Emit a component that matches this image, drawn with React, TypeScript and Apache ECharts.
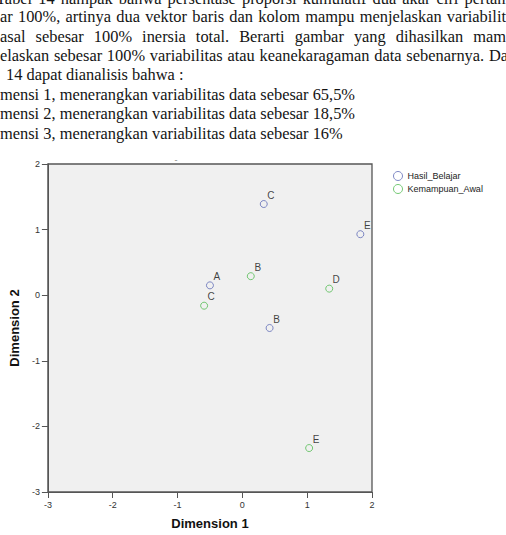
import React, { useEffect, useRef } from "react";
import * as echarts from "echarts";

// ---- data ----
const hasilLabels = ["A", "B", "C", "E"];
const hasilDim1 = [-0.5, 0.42, 0.33, 1.82];
const hasilDim2 = [0.15, -0.5, 1.39, 0.93];

const awalLabels = ["B", "C", "D", "E"];
const awalDim1 = [0.13, -0.59, 1.34, 1.03];
const awalDim2 = [0.29, -0.16, 0.1, -2.33];

const seriesNames = ["Hasil_Belajar", "Kemampuan_Awal"];
const axisNames = ["Dimension 1", "Dimension 2"];

// paragraph text above the chart (cropped scan)
const justifiedLines = [
  "Tabel 14 nampak bahwa persentase proporsi kumulatif dua akar ciri pertam",
  "ar 100%, artinya dua vektor baris dan kolom mampu menjelaskan variabilit",
  "asal sebesar 100% inersia total. Berarti gambar yang dihasilkan mam",
  "elaskan sebesar 100% variabilitas atau keanekaragaman data sebenarnya. Da",
];
const plainLines = [
  "14 dapat dianalisis bahwa :",
  "mensi 1, menerangkan variabilitas data sebesar 65,5%",
  "mensi 2, menerangkan variabilitas data sebesar 18,5%",
  "mensi 3, menerangkan variabilitas data sebesar 16%",
];

const BLUE = "#5f6cb6";
const GREEN = "#52bb52";

export default function App() {
  const ref = useRef<HTMLDivElement>(null);
  useEffect(() => {
    document.body.style.margin = "0";
    const chart = echarts.init(ref.current!, undefined, { renderer: "svg" });

    const FONT = '16.4px "Liberation Serif"';
    const cv = document.createElement("canvas").getContext("2d")!;
    cv.font = FONT;
    const textEls: any[] = [];
    const lineSpec = [
      { x0: -4, x1: 510, base: 4 },
      { x0: 0, x1: 506, base: 22 },
      { x0: 0, x1: 506, base: 41.5 },
      { x0: 0, x1: 508, base: 61 },
    ];
    const addWord = (w: string, x: number, base: number) => {
      textEls.push({
        type: "text",
        x,
        y: base - 5.5,
        silent: true,
        style: {
          text: w,
          font: FONT,
          fill: "#141414",
          textAlign: "left",
          verticalAlign: "middle",
        },
      });
    };
    justifiedLines.forEach((line, i) => {
      const words = line.split(" ");
      const widths = words.map((w) => cv.measureText(w).width);
      const total = widths.reduce((a, b) => a + b, 0);
      const spec = lineSpec[i];
      const gap = (spec.x1 - spec.x0 - total) / (words.length - 1);
      let x = spec.x0;
      words.forEach((w, j) => {
        addWord(w, x, spec.base);
        x += widths[j] + gap;
      });
    });
    const plainSpec = [
      { x: 6, base: 80 },
      { x: 0, base: 99.5 },
      { x: 0, base: 119 },
      { x: 0, base: 138.5 },
    ];
    plainLines.forEach((line, i) => addWord(line, plainSpec[i].x, plainSpec[i].base));

    textEls.push({
      type: "text",
      x: 176,
      y: 160,
      silent: true,
      style: { text: "-", font: '9px "Liberation Sans"', fill: "#888", textAlign: "center", verticalAlign: "middle" },
    });

    const mk = (labels: string[], xs: number[], ys: number[]) =>
      labels.map((n, i) => ({ name: n, value: [xs[i], ys[i]] }));

    const axisCommon = {
      type: "value" as const,
      min: -3,
      max: 2,
      interval: 1,
      nameLocation: "middle" as const,
      nameTextStyle: { fontFamily: "Liberation Sans", fontWeight: "bold", fontSize: 13, color: "#111" },
      axisLine: { show: true, onZero: false, lineStyle: { color: "#555", width: 1 } },
      axisTick: { show: true, length: 6, lineStyle: { color: "#555" } },
      axisLabel: { fontFamily: "Liberation Sans", fontSize: 9, color: "#333", margin: 8 },
      splitLine: { show: false },
    };

    const seriesCommon = (name: string, color: string, data: any[]) => ({
      type: "scatter",
      name,
      data,
      symbol: "circle",
      symbolSize: 7,
      itemStyle: { color: "rgba(0,0,0,0)", borderColor: color, borderWidth: 1 },
      emphasis: { disabled: true },
      label: {
        show: true,
        formatter: "{b}",
        position: "top",
        distance: 0,
        offset: [7, 0],
        fontFamily: "Liberation Sans",
        fontSize: 10,
        color: "#111",
      },
    });

    chart.setOption({
      animation: false,
      backgroundColor: "#fff",
      grid: {
        left: 46,
        right: 134,
        top: 164,
        bottom: 43,
        show: true,
        backgroundColor: "#f0f0f0",
        borderColor: "#555",
        borderWidth: 1.3,
      },
      xAxis: { ...axisCommon, name: axisNames[0], nameGap: 25 },
      yAxis: { ...axisCommon, name: axisNames[1], nameGap: 23 },
      legend: {
        orient: "vertical",
        left: 388,
        top: 166,
        itemWidth: 9,
        itemHeight: 9,
        itemGap: 3,
        textStyle: { fontFamily: "Liberation Sans", fontSize: 9, color: "#222", lineHeight: 9 },
        data: [
          { name: seriesNames[0], icon: "circle", itemStyle: { color: "rgba(0,0,0,0)", borderColor: BLUE, borderWidth: 1 } },
          { name: seriesNames[1], icon: "circle", itemStyle: { color: "rgba(0,0,0,0)", borderColor: GREEN, borderWidth: 1 } },
        ],
      },
      series: [
        seriesCommon(seriesNames[0], BLUE, mk(hasilLabels, hasilDim1, hasilDim2)),
        seriesCommon(seriesNames[1], GREEN, mk(awalLabels, awalDim1, awalDim2)),
      ],
      graphic: textEls,
    });
    return () => chart.dispose();
  }, []);
  return <div ref={ref} style={{ width: 506, height: 535, position: "absolute", left: 0, top: 0 }} />;
}
